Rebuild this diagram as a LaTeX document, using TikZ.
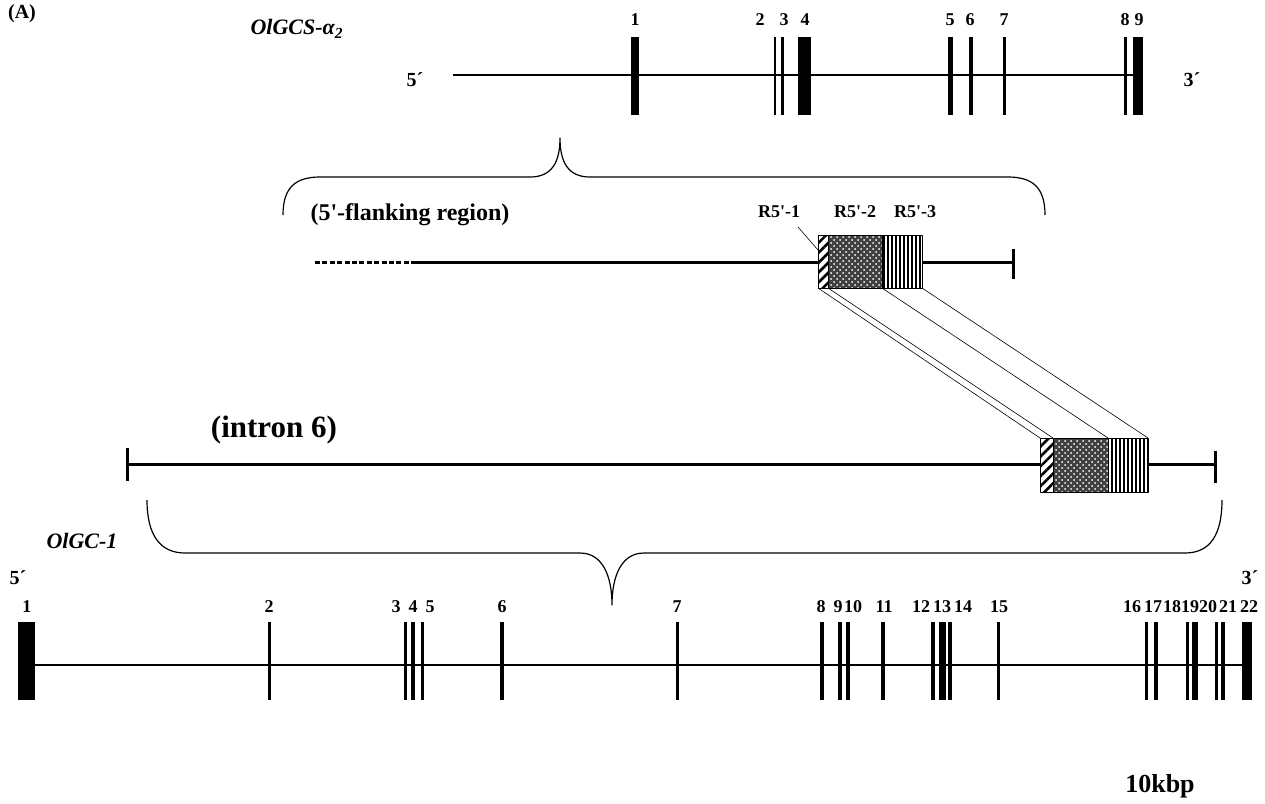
\documentclass[tikz,border=0pt]{standalone}
\usepackage{fontspec}
\setmainfont{Liberation Serif}
\usetikzlibrary{patterns,patterns.meta}

\begin{document}
\begin{tikzpicture}[x=0.5pt,y=-0.5pt,line join=round,
  exon/.style={fill=black},
  num/.style={font=\bfseries\fontsize{9}{10}\selectfont,inner sep=0pt},
  gname/.style={font=\bfseries\itshape\fontsize{11}{13}\selectfont,inner sep=0pt},
  gene/.style={line width=0.6pt},
  heavy/.style={line width=1.5pt},
  link/.style={line width=0.3pt},
  hatchbox/.style={draw,line width=0.5pt,pattern={Lines[angle=45,distance=3.5pt,line width=1.3pt]}},
  stripebox/.style={draw,line width=0.5pt,pattern={Lines[angle=90,distance=2pt,line width=0.6pt]}}]
\useasboundingbox (0,0) rectangle (1265,804);
\node[font=\bfseries\fontsize{10}{12}\selectfont,inner sep=0pt] (panel) at (22,14) {(A)};
% OlGCS-alpha2
\node[gname] (alpha) at (297,29) {OlGCS-α\textsubscript{2}};
\node[num,font=\bfseries\fontsize{10}{12}\selectfont] (a5p) at (415,80) {5´};
\node[num,font=\bfseries\fontsize{10}{12}\selectfont] (a3p) at (1192,80) {3´};
\draw [gene] (453,75)-- (1143,75);
\fill[exon] (631,37) rectangle (639,115);
\fill[exon] (774,37) rectangle (776,115);
\fill[exon] (781,37) rectangle (783.5,115);
\fill[exon] (798,37) rectangle (811,115);
\fill[exon] (948,37) rectangle (952.5,115);
\fill[exon] (969,37) rectangle (973,115);
\fill[exon] (1003,37) rectangle (1005.5,115);
\fill[exon] (1124,37) rectangle (1126.5,115);
\fill[exon] (1133,37) rectangle (1143,115);
\node[num] (a1) at (635,20) {1};
\node[num] (a2) at (760,20) {2};
\node[num] (a3) at (784,20) {3};
\node[num] (a4) at (805,20) {4};
\node[num] (a5) at (950,20) {5};
\node[num] (a6) at (970,20) {6};
\node[num] (a7) at (1004,20) {7};
\node[num] (a8) at (1125,20) {8};
\node[num] (a9) at (1139,20) {9};
% upper brace
\draw [gene] (283,215) .. controls (283,188) and (295,177) .. (320,177) -- (530,177)
  .. controls (552,177) and (560,162) .. (560,138) .. controls (560,162) and (568,177) .. (590,177)
  -- (1008,177) .. controls (1033,177) and (1045,188) .. (1045,215);
% 5'-flanking region
\node[font=\bfseries\fontsize{12}{14}\selectfont,inner sep=0pt] (flank) at (410,215) {(5\textquotesingle-flanking region)};
\draw [heavy,dash pattern=on 2.5pt off 1.2pt] (315,262)-- (415,262);
\draw [heavy] (415,262)-- (818,262);
\draw [heavy] (922,262)-- (1013,262);
\draw [heavy] (1013,249)-- (1013,279);
\fill[black!75] (828,235) rectangle (882,288);
\fill[pattern=crosshatch dots,pattern color=white] (828,235) rectangle (882,288);
\draw[line width=0.5pt] (828,235) rectangle (882,288);
\path[stripebox] (882,235) rectangle (922,288);
\path[hatchbox] (818,235) rectangle (828,288);
\node[num] (r1) at (779,212) {R5\textquotesingle-1};
\node[num] (r2) at (855,212) {R5\textquotesingle-2};
\node[num] (r3) at (915,212) {R5\textquotesingle-3};
\coordinate (tip) at (818,250);
\draw [link] (798,227)-- (tip);
% corners of the R5' boxes
\coordinate (p1) at (818,288);
\coordinate (p2) at (828,288);
\coordinate (p3) at (882,288);
\coordinate (p4) at (922,288);
\coordinate (q1) at (1040,438);
\coordinate (q2) at (1053,438);
\coordinate (q3) at (1108,438);
\coordinate (q4) at (1148,438);
\draw [link] (p1)-- (q1);
\draw [link] (p2)-- (q2);
\draw [link] (p3)-- (q3);
\draw [link] (p4)-- (q4);
% intron 6
\node[font=\bfseries\fontsize{15.5}{18}\selectfont,inner sep=0pt] (intron) at (274,430) {(intron 6)};
\draw [heavy] (127,464)-- (1040,464);
\draw [heavy] (127,448)-- (127,481);
\draw [heavy] (1148,464)-- (1215,464);
\draw [heavy] (1215,451)-- (1215,483);
\fill[black!75] (1053,438) rectangle (1108,492);
\fill[pattern=crosshatch dots,pattern color=white] (1053,438) rectangle (1108,492);
\draw[line width=0.5pt] (1053,438) rectangle (1108,492);
\path[stripebox] (1108,438) rectangle (1148,492);
\path[hatchbox] (1040,438) rectangle (1053,492);
% lower brace
\draw [gene] (147,500) .. controls (147,535) and (160,553) .. (185,553) -- (580,553)
  .. controls (602,553) and (612,575) .. (612,605) .. controls (612,575) and (622,553) .. (644,553)
  -- (1185,553) .. controls (1210,553) and (1222,535) .. (1222,500);
% OlGC-1
\node[gname] (gc) at (82,541) {OlGC-1};
\node[num,font=\bfseries\fontsize{10}{12}\selectfont] (b5p) at (18,578) {5´};
\node[num,font=\bfseries\fontsize{10}{12}\selectfont] (b3p) at (1250,578) {3´};
\draw [gene] (35,665)-- (1245,665);
\fill[exon] (18,622) rectangle (35,700);
\fill[exon] (268,622) rectangle (271,700);
\fill[exon] (404,622) rectangle (407,700);
\fill[exon] (411,622) rectangle (414.5,700);
\fill[exon] (421,622) rectangle (424,700);
\fill[exon] (500,622) rectangle (504,700);
\fill[exon] (676,622) rectangle (679,700);
\fill[exon] (820,622) rectangle (824,700);
\fill[exon] (838,622) rectangle (842,700);
\fill[exon] (846,622) rectangle (850,700);
\fill[exon] (881,622) rectangle (885,700);
\fill[exon] (931,622) rectangle (935,700);
\fill[exon] (939,622) rectangle (946,700);
\fill[exon] (948,622) rectangle (952,700);
\fill[exon] (997,622) rectangle (1000,700);
\fill[exon] (1145,622) rectangle (1148,700);
\fill[exon] (1154,622) rectangle (1158,700);
\fill[exon] (1186,622) rectangle (1189,700);
\fill[exon] (1192,622) rectangle (1198,700);
\fill[exon] (1215,622) rectangle (1218,700);
\fill[exon] (1221,622) rectangle (1225,700);
\fill[exon] (1242,622) rectangle (1252,700);
\node[num] (b1) at (27,607) {1};
\node[num] (b2) at (269,607) {2};
\node[num] (b3) at (396,607) {3};
\node[num] (b4) at (413,607) {4};
\node[num] (b5) at (430,607) {5};
\node[num] (b6) at (502,607) {6};
\node[num] (b7) at (677,607) {7};
\node[num] (b8) at (821,607) {8};
\node[num] (b9) at (838,607) {9};
\node[num] (b10) at (853,607) {10};
\node[num] (b11) at (884,607) {11};
\node[num] (b12) at (921,607) {12};
\node[num] (b13) at (942,607) {13};
\node[num] (b14) at (963,607) {14};
\node[num] (b15) at (999,607) {15};
\node[num] (b16) at (1132,607) {16};
\node[num] (b17) at (1153,607) {17};
\node[num] (b18) at (1172,607) {18};
\node[num] (b19) at (1190,607) {19};
\node[num] (b20) at (1208,607) {20};
\node[num] (b21) at (1228,607) {21};
\node[num] (b22) at (1249,607) {22};
% scale
\node[font=\bfseries\fontsize{13}{15}\selectfont,inner sep=0pt] (scale) at (1160,786) {10kbp};
\end{tikzpicture}
\end{document}
